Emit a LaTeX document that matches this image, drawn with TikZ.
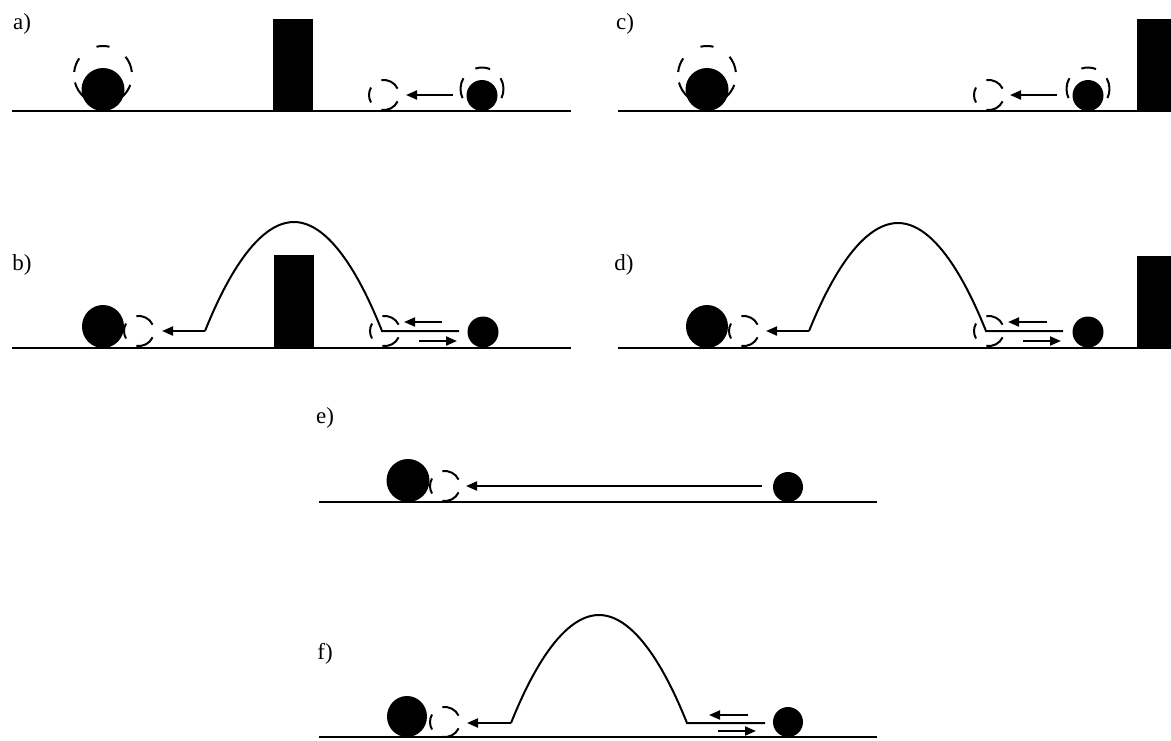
\documentclass[tikz,border=0pt]{standalone}
\usepackage{fontspec}
\setmainfont{Liberation Serif}
\usetikzlibrary{arrows.meta}
\newcommand\ringarcs[3]{%
  \foreach \sa/\ea in {#3}{\draw[ringline] (#1) ++(\sa:#2) arc[start angle=\sa, end angle=\ea, radius=#2];}}
\begin{document}
\begin{tikzpicture}[x=1pt,y=-1pt,
  ground/.style={line width=2pt},
  ballfill/.style={fill=black},
  wallfill/.style={fill=black},
  traj/.style={line width=2pt, line join=miter},
  arr/.style={line width=2pt,-{Triangle[length=11pt,width=9pt]}},
  ringline/.style={line width=2pt},
  lbl/.style={font=\fontsize{23}{23}\selectfont, inner sep=0pt}
]
\useasboundingbox (0,0) rectangle (1171,740);

% ---------- a) ----------
\node[lbl] (la) at (22,24) {a)};
\draw[ground] (12,111) -- (571,111);
\fill[wallfill] (273,19) rectangle (313,111);
\ringarcs{103,75}{29pt}{6/39, 77/103, 145/174, 195/229, 311/340}
\fill[ballfill] (103,89.5) circle[radius=21.5pt];
\ringarcs{384,95}{15pt}{25/100, 150/210, 260/335}
\ringarcs{482,89}{21.5pt}{-25/30, 68/108, 150/205}
\fill[ballfill] (482,95.5) circle[radius=15.5pt];
\coordinate (a1) at (453,95);
\coordinate (a2) at (406,95);
\draw[arr] (a1) -- (a2);

% ---------- c) ----------
\node[lbl] (lc) at (625,24) {c)};
\draw[ground] (618,111) -- (1171,111);
\fill[wallfill] (1137,19) rectangle (1171,111);
\ringarcs{707,75}{29pt}{6/39, 77/103, 145/174, 195/229, 311/340}
\fill[ballfill] (707,89.5) circle[radius=21.5pt];
\ringarcs{989,95}{15pt}{25/100, 150/210, 260/335}
\ringarcs{1088,89}{21.5pt}{-25/30, 68/108, 150/205}
\fill[ballfill] (1088,95.5) circle[radius=15.5pt];
\coordinate (c1) at (1057,95);
\coordinate (c2) at (1010,95);
\draw[arr] (c1) -- (c2);

% ---------- b) ----------
\node[lbl] (lb) at (22,265) {b)};
\draw[ground] (12,348) -- (571,348);
\fill[wallfill] (274,255) rectangle (314,348);
\fill[ballfill] (103,326.5) ellipse[x radius=21pt, y radius=21.5pt];
\ringarcs{139,331}{15pt}{25/100, 150/210, 260/335}
\coordinate (b0) at (205,331);
\coordinate (btop) at (294,222);
\coordinate (b1) at (382,331);
\coordinate (b2) at (459,331);
\coordinate (bt) at (162,331);
\draw[traj] (b2) -- (b1) parabola bend (btop) (b0);
\draw[arr] (b0) -- (bt);
\ringarcs{385,331}{15pt}{25/100, 150/210, 260/335}
\coordinate (bu1) at (442,322);
\coordinate (bu2) at (404,322);
\draw[arr] (bu1) -- (bu2);
\coordinate (bl1) at (419,341);
\coordinate (bl2) at (457,341);
\draw[arr] (bl1) -- (bl2);
\fill[ballfill] (483,332) circle[radius=15.5pt];

% ---------- d) ----------
\node[lbl] (ld) at (624,265) {d)};
\draw[ground] (618,348) -- (1171,348);
\fill[wallfill] (1137,256) rectangle (1171,348);
\fill[ballfill] (707,326.5) ellipse[x radius=21pt, y radius=21.5pt];
\ringarcs{744,331}{15pt}{25/100, 150/210, 260/335}
\coordinate (d0) at (809,331);
\coordinate (dtop) at (898,223);
\coordinate (d1) at (986,331);
\coordinate (d2) at (1063,331);
\coordinate (dt) at (766,331);
\draw[traj] (d2) -- (d1) parabola bend (dtop) (d0);
\draw[arr] (d0) -- (dt);
\ringarcs{989,331}{15pt}{25/100, 150/210, 260/335}
\coordinate (du1) at (1047,322);
\coordinate (du2) at (1008,322);
\draw[arr] (du1) -- (du2);
\coordinate (dl1) at (1023,341);
\coordinate (dl2) at (1061,341);
\draw[arr] (dl1) -- (dl2);
\fill[ballfill] (1088,332) circle[radius=15.5pt];

% ---------- e) ----------
\node[lbl] (le) at (325,418) {e)};
\draw[ground] (319,502) -- (877,502);
\fill[ballfill] (408,480.5) circle[radius=21.5pt];
\ringarcs{445,486}{15pt}{25/100, 150/210, 260/335}
\coordinate (e1) at (762,486);
\coordinate (e2) at (466,486);
\draw[arr] (e1) -- (e2);
\fill[ballfill] (788,487) circle[radius=15pt];

% ---------- f) ----------
\node[lbl] (lf) at (325,654) {f)};
\draw[ground] (319,737) -- (877,737);
\fill[ballfill] (407,716.5) ellipse[x radius=20pt, y radius=20.5pt];
\ringarcs{445,722}{15pt}{25/100, 150/210, 260/335}
\coordinate (f0) at (511,723);
\coordinate (ftop) at (599,615);
\coordinate (f1) at (687,723);
\coordinate (f2) at (765,723);
\coordinate (ft) at (467,723);
\draw[traj] (f2) -- (f1) parabola bend (ftop) (f0);
\draw[arr] (f0) -- (ft);
\coordinate (fu1) at (748,715);
\coordinate (fu2) at (709,715);
\draw[arr] (fu1) -- (fu2);
\coordinate (fl1) at (718,731);
\coordinate (fl2) at (756,731);
\draw[arr] (fl1) -- (fl2);
\fill[ballfill] (788,722) circle[radius=15pt];
\end{tikzpicture}
\end{document}
